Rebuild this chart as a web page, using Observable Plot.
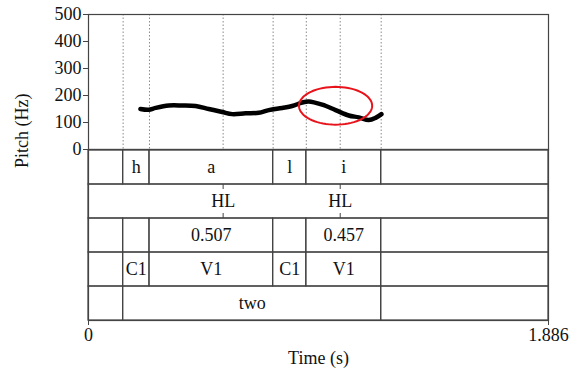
<!DOCTYPE html>
<html>
<head>
<meta charset="utf-8">
<script src="https://cdn.jsdelivr.net/npm/d3@7"></script>
<script src="https://cdn.jsdelivr.net/npm/@observablehq/plot@0.6"></script>
<style>
  html, body { margin: 0; padding: 0; background: white; }
  #chart { position: relative; width: 577px; height: 374px; }
  #chart svg { position: absolute; left: 0; top: 0; }
</style>
</head>
<body>
<div id="chart"></div>
<script>
// Recording length (s)
const totalDuration = 1.886;

// Pitch track (F0 contour)
const pitchTimes  = [0.213, 0.247, 0.275, 0.329, 0.384, 0.439, 0.493, 0.548, 0.589, 0.644, 0.698, 0.739, 0.794, 0.835, 0.876, 0.903, 0.958, 1.013, 1.067, 1.108, 1.149, 1.177, 1.201];
const pitchValues = [150, 147, 154, 163, 163, 161, 150, 139, 131, 134, 136, 146, 154, 161, 174, 178, 166, 146, 126, 119, 109, 117, 131];
const pitchTicks = [0, 100, 200, 300, 400, 500];

// TextGrid tiers
const tierNames = ["phone", "tone", "duration", "structure", "word"];
const phoneBounds = [0, 0.142, 0.250, 0.757, 0.893, 1.200, totalDuration];
const phoneLabels = ["", "h", "a", "l", "i", ""];
const durationLabels = ["", "", "0.507", "", "0.457", ""];
const structureLabels = ["", "C1", "V1", "C1", "V1", ""];
const wordBounds = [0, 0.142, 1.200, totalDuration];
const wordLabels = ["", "two", ""];
const toneTimes = [0.552, 1.032];
const toneLabels = ["HL", "HL"];

// Highlighted region on the pitch track (centre and radii in data units)
const highlightCenter = {t: 1.013, hz: 162};
const highlightRadius = {t: 0.150, hz: 70};

const pitch = pitchTimes.map((t, i) => ({t, hz: pitchValues[i]}));

function intervalsOf(tier, bounds, labels) {
  return labels.map((label, i) => ({tier, start: bounds[i], end: bounds[i + 1], label}));
}
const intervals = [
  ...intervalsOf("phone", phoneBounds, phoneLabels),
  ...intervalsOf("duration", phoneBounds, durationLabels),
  ...intervalsOf("structure", phoneBounds, structureLabels),
  ...intervalsOf("word", wordBounds, wordLabels),
  {tier: "tone", start: 0, end: totalDuration, label: ""}
];
const tonePoints = toneTimes.map((time, i) => ({tier: "tone", time, label: toneLabels[i]}));
const dottedBounds = [...phoneBounds.slice(1, -1), ...toneTimes];

const ellipse = d3.range(0, 361, 5).map(a => {
  const r = a * Math.PI / 180;
  return {t: highlightCenter.t + highlightRadius.t * Math.cos(r), hz: highlightCenter.hz + highlightRadius.hz * Math.sin(r)};
});

const font = "'Liberation Serif', 'Times New Roman', serif";
const lineColor = "#444";

const pitchPlot = Plot.plot({
  width: 577, height: 374,
  marginLeft: 88, marginRight: 29, marginTop: 14, marginBottom: 225,
  x: {domain: [0, totalDuration], axis: null},
  y: {domain: [0, 500], axis: null},
  style: {fontFamily: font, fontSize: "18px", background: "transparent", color: "#111"},
  marks: [
    Plot.ruleX(dottedBounds, {stroke: "#8a8a8a", strokeWidth: 1, strokeDasharray: "1.5,2"}),
    Plot.line(pitch, {x: "t", y: "hz", stroke: "#000", strokeWidth: 4.5, curve: "catmull-rom", strokeLinecap: "round", strokeLinejoin: "round"}),
    Plot.line(ellipse, {x: "t", y: "hz", stroke: "#e8141c", strokeWidth: 2, curve: "linear-closed"}),
    Plot.frame({stroke: lineColor, strokeWidth: 1.2}),
    Plot.axisY({ticks: pitchTicks, tickSize: 5, tickPadding: 2, label: null, fontSize: 18, stroke: lineColor}),
    Plot.text(["Pitch (Hz)"], {frameAnchor: "left", dx: -66, dy: 86, rotate: -90, fontSize: 18, fill: "#111"})
  ]
});

const tierPlot = Plot.plot({
  width: 577, height: 374,
  marginLeft: 88, marginRight: 29, marginTop: 149, marginBottom: 54,
  x: {domain: [0, totalDuration]},
  y: {type: "band", domain: tierNames, padding: 0, axis: null},
  style: {fontFamily: font, fontSize: "18px", background: "transparent", color: "#111"},
  marks: [
    Plot.barX(intervals, {x1: "start", x2: "end", y: "tier", fill: "none", stroke: lineColor, strokeWidth: 1.2}),
    Plot.tickX(tonePoints, {x: "time", y: "tier", insetBottom: 29, stroke: lineColor}),
    Plot.tickX(tonePoints, {x: "time", y: "tier", insetTop: 29, stroke: lineColor}),
    Plot.text(intervals.filter(d => d.label), {x: d => (d.start + d.end) / 2, y: "tier", text: "label", fontSize: 18, fill: "#111"}),
    Plot.text(tonePoints, {x: "time", y: "tier", text: "label", fontSize: 18, fill: "#111"}),
    Plot.frame({stroke: lineColor, strokeWidth: 1.2}),
    Plot.axisX({ticks: [0, totalDuration], tickFormat: d => `${d}`, tickSize: 5, tickPadding: 3, label: null, fontSize: 18, stroke: lineColor}),
    Plot.text(["Time (s)"], {frameAnchor: "bottom", dy: 38, lineAnchor: "middle", fontSize: 18, fill: "#111"})
  ]
});

const chart = document.getElementById("chart");
chart.append(pitchPlot, tierPlot);
</script>
</body>
</html>
